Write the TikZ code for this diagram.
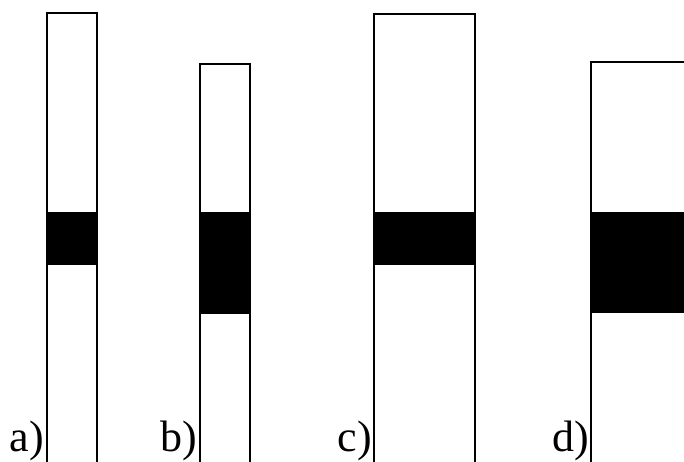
\documentclass[tikz,border=0pt]{standalone}
\usepackage{fontspec}
\setmainfont{Liberation Serif}
\usepackage{tikz}
\usetikzlibrary{positioning,calc}

\begin{document}
\begin{tikzpicture}[x=1pt,y=-1pt]
\tikzset{bar/.style={draw=black,line width=1.8pt,fill=white}}
\tikzset{band/.style={fill=black}}
\tikzset{lbl/.style={anchor=base east,inner sep=0pt,font=\fontsize{44}{48}\selectfont}}
\useasboundingbox (0,0) rectangle (684,461);
\clip (0,0) rectangle (684,461);

% a) narrow, tall
\draw[bar] (47,13) rectangle (97,480);
\fill[band] (47,212) rectangle (97,265);
\coordinate (a) at (44,451);
\node[lbl] (la) at (a) {a)};

% b) narrow, short
\draw[bar] (200,64) rectangle (250,480);
\fill[band] (200,212) rectangle (250,314);
\coordinate (b) at (197,451);
\node[lbl] (lb) at (b) {b)};

% c) wide, tall
\draw[bar] (374,14) rectangle (475,480);
\fill[band] (374,212) rectangle (475,265);
\coordinate (c) at (372,451);
\node[lbl] (lc) at (c) {c)};

% d) wide, short
\draw[bar] (591,62) rectangle (720,480);
\fill[band] (591,212) rectangle (720,313);
\coordinate (d) at (589,451);
\node[lbl] (ld) at (d) {d)};
\end{tikzpicture}
\end{document}
